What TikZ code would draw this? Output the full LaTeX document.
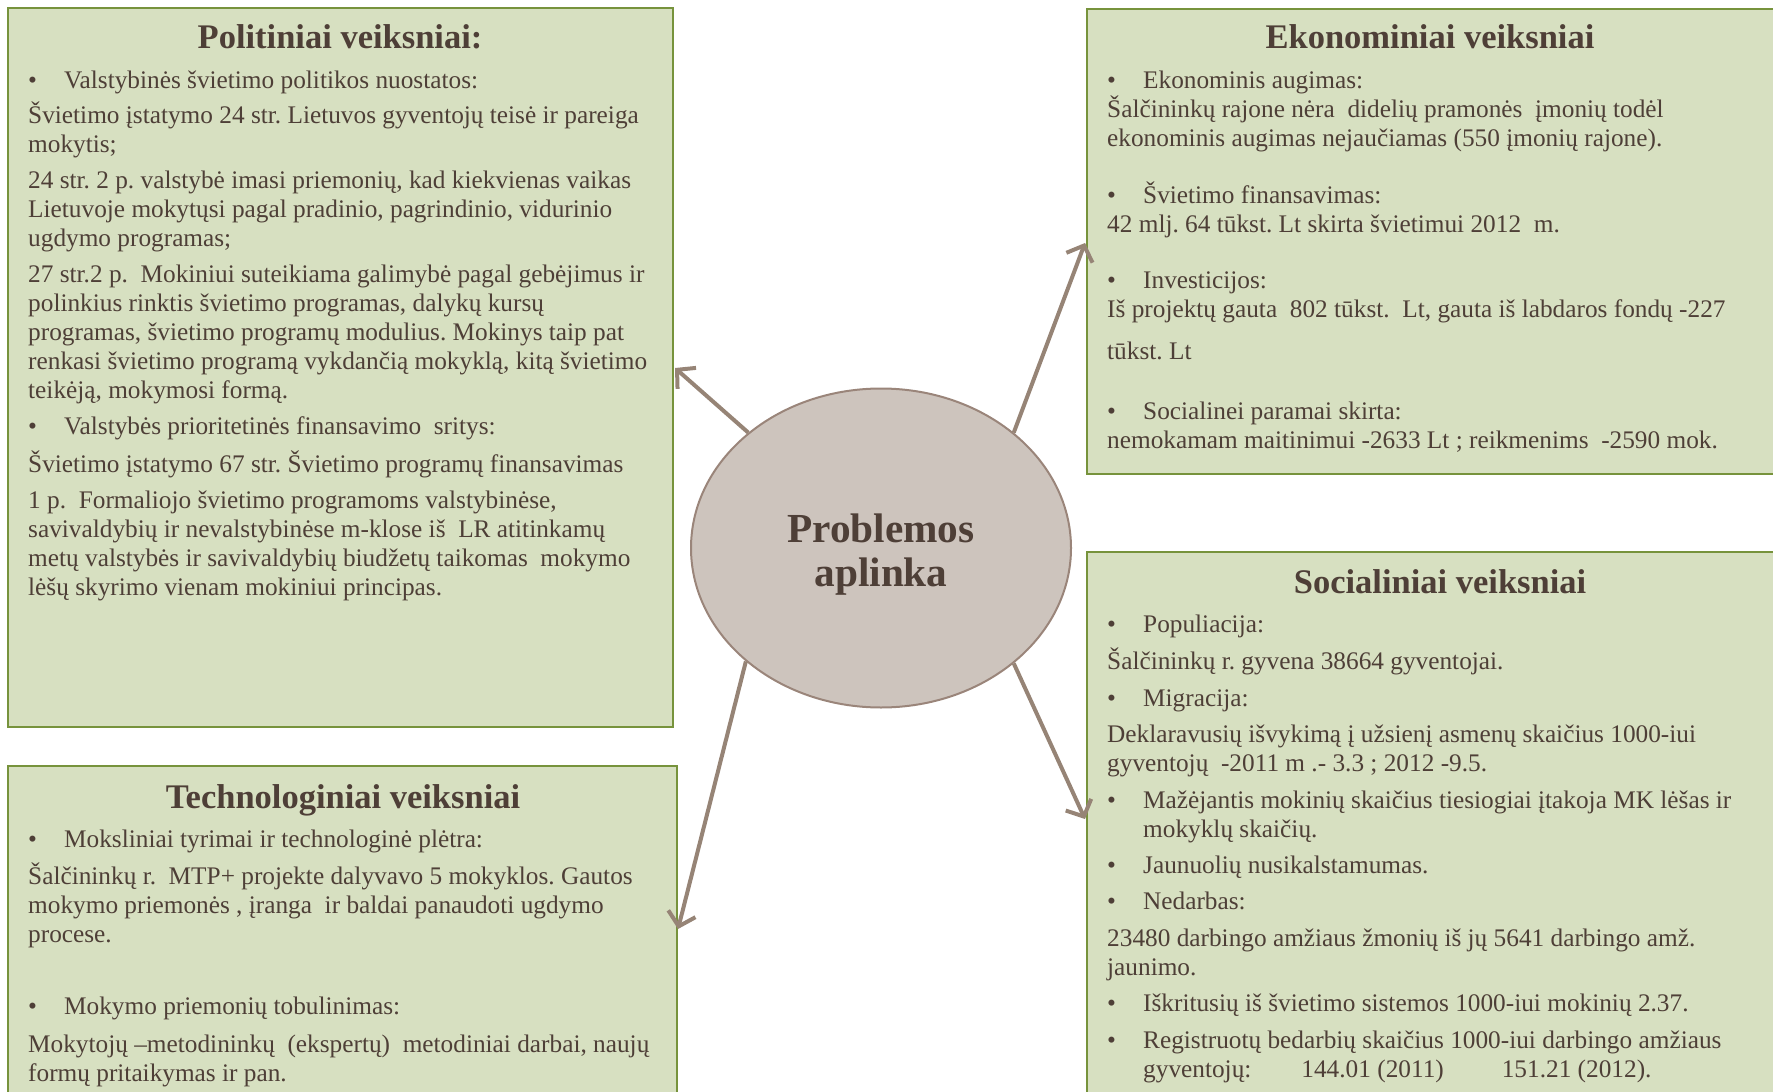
\documentclass[tikz,border=0pt]{standalone}
\usepackage{fontspec}
\setmainfont{Liberation Serif}
\usetikzlibrary{shapes.geometric,arrows.meta}
\definecolor{boxfill}{HTML}{D7E0C1}
\definecolor{boxline}{HTML}{77933C}
\definecolor{txtc}{HTML}{4E3F37}
\definecolor{ellfill}{HTML}{CDC4BD}
\definecolor{elline}{HTML}{9A857A}
\definecolor{arrc}{HTML}{968476}
\newcommand{\bul}{\makebox[36pt][l]{\textbullet}}
\newcommand{\topln}{\rule{0pt}{24pt}}
\frenchspacing
\begin{document}
\frenchspacing
\begin{tikzpicture}[x=1pt,y=-1pt,
  box/.style={draw=boxline, fill=boxfill, line width=2.5pt, anchor=north west, inner sep=0pt, outer sep=0pt},
  ttl/.style={font=\bfseries\fontsize{34.5}{38}\selectfont, text=txtc, anchor=base, inner sep=0pt},
  body/.style={font=\fontsize{25.3}{29}\selectfont\frenchspacing, text=txtc, align=left, anchor=north west, inner sep=0pt},
  arr/.style={draw=arrc, line width=4pt, -{Straight Barb[length=13pt,width=28pt,line width=4pt]}}]
\useasboundingbox (0,0) rectangle (1773,1092);
\clip (0,0) rectangle (1773,1092);

% boxes
\node[box, minimum width=665pt, minimum height=719pt] (pol) at (8,8) {};
\node[box, minimum width=720pt, minimum height=465pt] (eko) at (1087,9) {};
\node[box, minimum width=720pt, minimum height=570pt] (soc) at (1087,552) {};
\node[box, minimum width=669pt, minimum height=360pt] (tech) at (8,766) {};

% titles
\node[ttl] (polt) at (340,48) {Politiniai veiksniai:};
\node[ttl] (ekot) at (1430,48) {Ekonominiai veiksniai};
\node[ttl] (soct) at (1440,593) {Socialiniai veiksniai};
\node[ttl] (techt) at (343,808) {Technologiniai veiksniai};

% bodies (first baseline = y + 24)
\node[body] (polb) at (28,64.5) {%
\topln\bul Valstybinės švietimo politikos nuostatos:\\[6pt]
Švietimo įstatymo 24 str. Lietuvos gyventojų teisė ir pareiga\\
mokytis;\\[7pt]
24 str. 2 p. valstybė imasi priemonių, kad kiekvienas vaikas\\
Lietuvoje mokytųsi pagal pradinio, pagrindinio, vidurinio\\
ugdymo programas;\\[7pt]
27 str.2 p.\ \ Mokiniui suteikiama galimybė pagal gebėjimus ir\\
polinkius rinktis švietimo programas, dalykų kursų\\
programas, švietimo programų modulius. Mokinys taip pat\\
renkasi švietimo programą vykdančią mokyklą, kitą švietimo\\
teikėją, mokymosi formą.\\[7pt]
\bul Valstybės prioritetinės finansavimo\ \ sritys:\\[9pt]
Švietimo įstatymo 67 str. Švietimo programų finansavimas\\[7pt]
1 p.\ \ Formaliojo švietimo programoms valstybinėse,\\
savivaldybių ir nevalstybinėse m-klose iš\ \ LR atitinkamų\\
metų valstybės ir savivaldybių biudžetų taikomas\ \ mokymo\\
lėšų skyrimo vienam mokiniui principas.};

\node[body] (ekob) at (1107,64.5) {%
\topln\bul Ekonominis augimas:\\
Šalčininkų rajone nėra\ \ didelių pramonės\ \ įmonių todėl\\
ekonominis augimas nejaučiamas (550 įmonių rajone).\\[28pt]
\bul Švietimo finansavimas:\\
42 mlj. 64 tūkst. Lt skirta švietimui 2012\ \ m.\\[27pt]
\bul Investicijos:\\
Iš projektų gauta\ \ 802 tūkst.\ \ Lt, gauta iš labdaros fondų -227\\[13pt]
tūkst. Lt\\[31pt]
\bul Socialinei paramai skirta:\\
nemokamam maitinimui -2633 Lt ; reikmenims\ \ -2590 mok.};

\node[body] (socb) at (1107,608.5) {%
\topln\bul Populiacija:\\[8pt]
Šalčininkų r. gyvena 38664 gyventojai.\\[8pt]
\bul Migracija:\\[7pt]
Deklaravusių išvykimą į užsienį asmenų skaičius 1000-iui\\
gyventojų\ \ -2011 m .- 3.3 ; 2012 -9.5.\\[8pt]
\bul Mažėjantis mokinių skaičius tiesiogiai įtakoja MK lėšas ir\\
\hspace*{36pt}mokyklų skaičių.\\[7pt]
\bul Jaunuolių nusikalstamumas.\\[7pt]
\bul Nedarbas:\\[8pt]
23480 darbingo amžiaus žmonių iš jų 5641 darbingo amž.\\
jaunimo.\\[7pt]
\bul Iškritusių iš švietimo sistemos 1000-iui mokinių 2.37.\\[8pt]
\bul Registruotų bedarbių skaičius 1000-iui darbingo amžiaus\\
\hspace*{36pt}gyventojų:\hspace*{50pt}144.01 (2011)\hspace*{58pt}151.21 (2012).};

\node[body] (techb) at (28,823) {%
\topln\bul Moksliniai tyrimai ir technologinė plėtra:\\[8pt]
Šalčininkų r.\ \ MTP+ projekte dalyvavo 5 mokyklos. Gautos\\
mokymo priemonės , įranga\ \ ir baldai panaudoti ugdymo\\
procese.\\[43pt]
\bul Mokymo priemonių tobulinimas:\\[9pt]
Mokytojų –metodininkų\ \ (ekspertų)\ \ metodiniai darbai, naujų\\
formų pritaikymas ir pan.};

% center ellipse
\node[ellipse, draw=elline, fill=ellfill, line width=2pt, minimum width=380pt, minimum height=319pt, inner sep=0pt] (ell) at (881,548) {};
\node[align=center, text=txtc, font=\bfseries\fontsize{41.3}{44}\selectfont, inner sep=0pt] (ellt) at (881,555) {Problemos\\aplinka};

% arrow ends
\coordinate (tp) at (675,368);
\coordinate (te) at (1085,243);
\coordinate (tt) at (678,929);
\coordinate (ts) at (1085,819);

\draw[arr] (ell.139) -- (tp);
\draw[arr] (ell.41) -- (te);
\draw[arr] (ell.220) -- (tt);
\draw[arr] (ell.319) -- (ts);
\end{tikzpicture}
\end{document}
